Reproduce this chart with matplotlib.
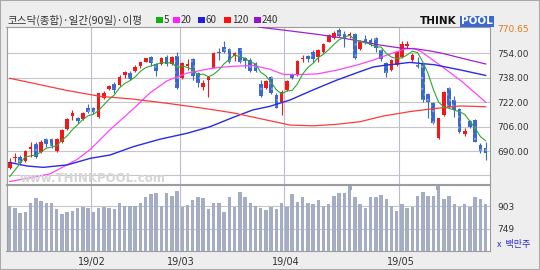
import matplotlib
matplotlib.use('Agg')
import matplotlib.pyplot as plt
from matplotlib.patches import Rectangle
import numpy as np
import pandas as pd

# ---- data (KOSDAQ daily, 92 sessions) ----
opens = [679.0, 685.2, 686.3, 683.4, 691.3, 694.3, 689.1, 697.8, 697.8, 690.0,
         695.8, 704.5, 713.2, 711.8, 711.0, 718.4, 718.4, 712.5, 724.9, 730.6,
         733.9, 733.2, 739.8, 741.3, 742.4, 745.9, 748.5, 751.8, 746.7, 746.7,
         751.8, 746.7, 752.4, 737.6, 745.9, 750.2, 740.8, 732.1, 736.5, 744.6,
         755.0, 758.3, 756.8, 752.4, 757.2, 750.7, 749.6, 746.7, 733.6, 731.0,
         738.7, 726.7, 721.8, 729.9, 739.8, 739.8, 750.0, 752.2, 754.6, 751.8,
         754.6, 761.6, 763.8, 769.2, 766.6, 765.3, 766.4, 756.8, 763.3, 762.7,
         764.2, 756.1, 747.4, 743.0, 746.3, 751.8, 759.0, 749.6, 746.3, 746.7,
         727.1, 721.2, 698.3, 713.5, 731.5, 723.4, 717.5, 701.0, 709.6, 710.3,
         693.9, 692.2]
highs = [685.2, 688.4, 687.3, 690.6, 696.1, 696.1, 697.2, 698.3, 698.7, 698.3,
         704.4, 711.4, 716.9, 712.5, 715.3, 720.5, 719.0, 728.2, 729.3, 733.2,
         734.9, 739.8, 742.4, 742.4, 746.3, 748.5, 751.1, 752.2, 747.4, 751.8,
         752.8, 752.4, 754.6, 748.5, 750.2, 750.7, 741.9, 736.5, 739.3, 754.6,
         757.2, 762.0, 757.2, 755.0, 757.6, 751.8, 750.7, 748.0, 736.5, 736.5,
         739.3, 727.7, 729.9, 736.5, 740.8, 749.6, 752.8, 752.8, 756.1, 756.6,
         760.5, 766.4, 768.6, 770.65, 768.6, 768.1, 767.0, 762.7, 766.0, 763.8,
         764.9, 756.8, 748.0, 750.2, 755.0, 762.0, 762.0, 753.9, 751.8, 747.4,
         727.7, 721.8, 711.8, 729.3, 732.1, 726.2, 717.9, 705.3, 710.3, 710.7,
         695.0, 696.1]
lows = [678.2, 683.0, 680.8, 683.0, 686.3, 685.6, 688.4, 692.8, 691.7, 689.5,
        695.1, 703.7, 710.4, 708.1, 710.4, 714.6, 714.0, 711.8, 724.0, 729.9,
        727.7, 732.6, 737.6, 736.5, 741.9, 744.6, 748.0, 745.9, 739.3, 746.3,
        745.9, 746.3, 730.6, 737.1, 743.0, 736.5, 732.1, 729.9, 725.6, 744.1,
        749.6, 753.9, 747.4, 748.9, 747.4, 744.1, 741.9, 741.9, 725.6, 730.6,
        727.1, 717.9, 713.5, 729.3, 736.9, 739.3, 748.5, 748.0, 748.5, 748.5,
        754.2, 761.1, 763.3, 764.9, 758.3, 764.2, 750.2, 756.1, 759.8, 759.0,
        755.0, 748.9, 738.7, 742.4, 745.9, 751.1, 757.2, 748.5, 744.1, 722.3,
        711.4, 707.4, 697.8, 713.0, 718.4, 712.5, 701.5, 700.0, 705.3, 695.6,
        688.4, 684.1]
closes = [683.0, 686.3, 681.9, 690.0, 692.6, 686.3, 696.1, 694.3, 693.5, 697.6,
          703.7, 710.8, 714.7, 709.6, 714.7, 715.7, 715.3, 727.7, 727.7, 732.8,
          729.9, 738.7, 741.9, 737.1, 745.2, 748.0, 750.7, 747.4, 742.4, 751.1,
          746.7, 751.8, 731.0, 747.4, 746.7, 739.3, 734.3, 734.3, 738.7, 754.4,
          753.9, 754.6, 748.0, 753.9, 748.0, 748.9, 742.4, 742.4, 726.2, 735.8,
          727.7, 718.4, 728.8, 735.8, 737.6, 748.9, 750.7, 750.0, 750.2, 756.1,
          759.8, 766.0, 767.0, 765.5, 764.2, 766.4, 750.7, 761.6, 761.6, 759.4,
          757.7, 750.2, 740.8, 749.6, 754.6, 759.8, 759.8, 752.8, 745.2, 723.4,
          722.3, 708.1, 711.4, 728.8, 719.0, 716.9, 702.2, 703.1, 705.9, 696.1,
          690.0, 688.4]
volume = [903, 892, 853, 860, 926, 955, 937, 926, 926, 880,
          849, 862, 871, 887, 898, 887, 865, 892, 898, 892,
          885, 926, 903, 903, 903, 926, 962, 984, 989, 903,
          989, 973, 1007, 894, 910, 944, 962, 955, 885, 926,
          926, 865, 962, 894, 1000, 962, 921, 903, 887, 876,
          898, 883, 921, 894, 984, 932, 962, 926, 914, 944,
          903, 914, 971, 989, 993, 1011, 966, 916, 887, 962,
          962, 978, 948, 905, 871, 916, 887, 898, 971, 1000,
          971, 971, 1011, 948, 971, 916, 898, 916, 898, 962,
          948, 916]

ma5_head = [673.2, 677.5, 681.9, 686.3]

# longer averages, read as (session index, value) points
ma20_x = [0, 7.7, 12.9, 15.4, 19.2, 23.6, 26.8, 30.1, 33.9, 38.9, 42.7, 46.5, 49.8,
          52.3, 55, 58.8, 62.6, 66.4, 69.5, 71, 74, 75.6, 77.1, 78.5, 82.7, 86.5, 91]
ma20_y = [670.0, 675.0, 684.5, 691.0, 704.0, 717.5, 728.0, 736.0, 741.0, 744.3, 745.5, 746.0, 743.5,
          740.2, 740.0, 740.5, 743.0, 746.3, 749.5, 751.5, 755.0, 756.8, 757.2, 755.5, 745.2, 735.4, 722.0]
ma60_x = [0, 3.3, 6.4, 11, 15.4, 19.2, 23.6, 28.7, 33.9, 38.3, 42.7, 46.5, 49.8,
          53.6, 58, 62.6, 67, 69.5, 71.4, 76.5, 81.2, 86.3, 91]
ma60_y = [682.5, 680.2, 679.3, 680.9, 685.2, 687.4, 692.8, 697.7, 701.6, 705.9, 712.0, 716.9, 719.3,
          723.4, 730.0, 736.5, 742.0, 745.0, 746.0, 748.0, 746.5, 743.0, 739.5]
ma120_x = [0, 4.5, 11, 17.3, 23.6, 30, 36.4, 42.7, 49.8, 53.6, 58, 62.6, 67, 71.4, 76.5, 81.7, 86.1, 91]
ma120_y = [737.6, 734.4, 729.6, 725.8, 724.0, 721.3, 718.3, 715.0, 709.8, 707.0, 706.5, 707.5,
           709.2, 712.9, 715.8, 718.0, 719.5, 719.0]
ma240_x = [46, 48.4, 52.3, 58.8, 63.2, 67, 70.8, 74.6, 77.9, 80.4, 82.7, 86.5, 91]
ma240_y = [772.5, 770.8, 769.2, 766.4, 764.2, 762.0, 759.4, 757.5, 756.8, 755.5, 754.0, 750.7, 747.0]

month_start = [16, 33, 53, 75]
month_labels = ['19/02', '19/03', '19/04', '19/05']
price_ticks = [690, 706, 722, 738, 754]
price_grid = [674, 690, 706, 722, 738, 754]
price_max = 770.65
vol_ticks = [749, 903]

# ---- layout helpers (pixels) ----
W, H = 540, 270


def fx(px):
    return px / W


def fy(py):
    return 1 - py / H


KR = ['Noto Sans CJK KR', 'DejaVu Sans']
TXT = '#333333'
GRID = '#c6c6c6'
VGRID = '#bcbccc'
UP = '#f01818'
DOWN = '#3a68cc'

fig = plt.figure(figsize=(5.4, 2.7), dpi=100, facecolor='#eeeeee')
fig.patches.append(Rectangle((0, 0), 1, 1, transform=fig.transFigure, fill=False,
                             edgecolor='#a9a9a9', lw=1.5))

ax = fig.add_axes([fx(6.5), fy(184), fx(489.5) - fx(6.5), fy(26.7) - fy(184)])
axv = fig.add_axes([fx(6.5), fy(250.5), fx(489.5) - fx(6.5), fy(185) - fy(250.5)])

n = len(closes)
idx = np.arange(n)
o = np.array(opens)
c = np.array(closes)
hi = np.array(highs)
lo = np.array(lows)
up = c >= o

for a in (ax, axv):
    a.set_facecolor('white')
    a.set_xlim(-0.61, 91.74)
    for s in a.spines.values():
        s.set_color('#9c9c9c')
        s.set_linewidth(0.8)
    for m in month_start:
        a.axvline(m - 0.5, color=VGRID, lw=0.8, zorder=0)

# price panel
ax.set_ylim(668.4, 771.4)
for v in price_grid:
    ax.axhline(v, color=GRID, lw=0.8, zorder=0)

fig.text(fx(20), fy(182.5), 'www.THINKPOOL.com', fontsize=8.5, fontweight='bold',
         color='#d6d6d6', va='baseline', zorder=0)

body_lo = np.minimum(o, c)
body_h = np.maximum(np.abs(c - o), 0.6)
ax.vlines(idx[up], lo[up], hi[up], colors=UP, lw=0.8, zorder=2)
ax.vlines(idx[~up], lo[~up], hi[~up], colors=DOWN, lw=0.8, zorder=2)
ax.bar(idx[up], body_h[up], 0.7, bottom=body_lo[up], color=UP, lw=0, zorder=2)
ax.bar(idx[~up], body_h[~up], 0.7, bottom=body_lo[~up], color=DOWN,
       edgecolor='#7c9ce4', hatch='...', lw=0, zorder=2)

ma5 = pd.Series(closes).rolling(5).mean().to_numpy()
ma5[:4] = ma5_head
ax.plot(ma20_x, ma20_y, color='#ff44ff', lw=0.9, zorder=3)
ax.plot(ma60_x, ma60_y, color='#2a2ae6', lw=1.0, zorder=3)
ax.plot(ma120_x, ma120_y, color='#ff3a3a', lw=0.9, zorder=3)
ax.plot(ma240_x, ma240_y, color='#a020d0', lw=0.9, zorder=3)
ax.plot(idx, ma5, color='#2ea82e', lw=0.8, zorder=3)

ax.set_xticks([])
ax.yaxis.tick_right()
ax.set_yticks(price_ticks)
ax.set_yticklabels(['%.2f' % v for v in price_ticks], fontsize=6.5, color=TXT)
ax.tick_params(axis='y', length=0, pad=5.4)
fig.text(fx(497), fy(30), '%.2f' % price_max, fontsize=6.5, color='#e07a1c', va='center')

# volume panel
axv.set_ylim(601.3, 1045.4)
for v in vol_ticks:
    axv.axhline(v, color=GRID, lw=0.8, zorder=0)
axv.bar(idx, np.array(volume) - 601.3, 0.66, bottom=601.3, color='#a5adc5', lw=0, zorder=2)
axv.yaxis.tick_right()
axv.set_yticks(vol_ticks)
axv.set_yticklabels([str(v) for v in vol_ticks], fontsize=6.5, color=TXT)
axv.tick_params(axis='y', length=0, pad=5.4)
axv.set_xticks([m - 0.2 for m in month_start])
axv.set_xticklabels(month_labels, fontsize=7, color=TXT)
axv.tick_params(axis='x', length=0, pad=5.0)
fig.text(fx(497), fy(245), 'x  백만주', fontsize=6.5, color='#2a2ad0', va='center', family=KR)

# event markers on the panel seam
for px in (350, 438):
    fig.patches.append(Rectangle((fx(px - 2), fy(190)), fx(4), fy(186) - fy(190),
                                 transform=fig.transFigure, color='#a0a6bc', lw=0))

# header
fig.text(fx(7), fy(20), '코스닥(종합)·일간(90일)·이평', fontsize=7.6, color=TXT,
         va='center', family=KR)
legend = [('#10b010', '5', 156), ('#ff20ff', '20', 173), ('#2020d8', '60', 198),
          ('#ff1010', '120', 224), ('#9a10d0', '240', 254)]
for col, lab, px in legend:
    fig.patches.append(Rectangle((fx(px), fy(23.3)), fx(6.7), fy(16.7) - fy(23.3),
                                 transform=fig.transFigure, color=col, lw=0))
    fig.text(fx(px + 8), fy(20), lab, fontsize=7, color=TXT, va='center', family=KR)

# logo
fig.text(fx(420), fy(24.5), 'THINK', fontsize=7.5, fontweight='heavy', color='#111111',
         va='baseline')
fig.text(fx(461), fy(24.5), 'POOL', fontsize=7.5, fontweight='bold', color='white',
         va='baseline', bbox=dict(facecolor='#3c68d4', edgecolor='none', pad=0.6))

fig.savefig('out.png', dpi=100, facecolor=fig.get_facecolor())
